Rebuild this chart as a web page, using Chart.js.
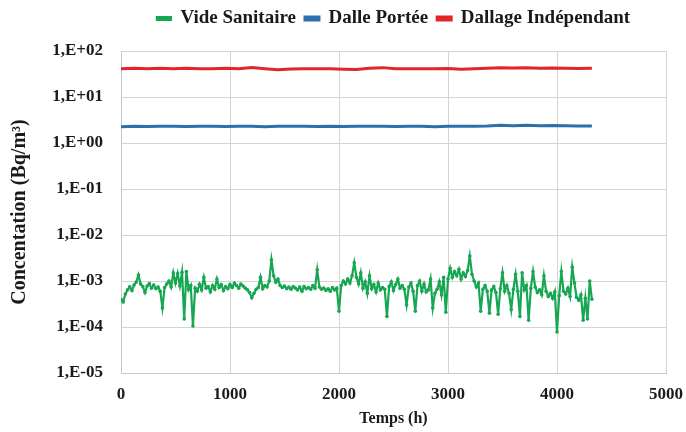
<!DOCTYPE html>
<html lang="fr">
<head>
<meta charset="UTF-8">
<title>Concentration - Temps</title>
<script src="https://cdn.jsdelivr.net/npm/chart.js"></script>
<style>
  body { margin: 0; background: #fff; }
  .wrap { width: 686px; height: 432px; position: relative; }
</style>
</head>
<body>
<div class="wrap"><canvas id="concChart"></canvas></div>
<script>
// series names / colours
const seriesNames = ['Vide Sanitaire', 'Dalle Portée', 'Dallage Indépendant'];
const seriesColors = ['#17a752', '#2b70ad', '#e0252b'];

// axes
const xTicks = [0, 1000, 2000, 3000, 4000, 5000];
const yTicks = [1e-5, 1e-4, 1e-3, 1e-2, 1e-1, 1, 10, 100];
const yTickLabels = ['1,E-05', '1,E-04', '1,E-03', '1,E-02', '1,E-01', '1,E+00', '1,E+01', '1,E+02'];

// Vide Sanitaire, one reading every 20 h from 0 h
const videStepHours = 20;
const videSanitaire = [
  4.0e-4, 3.5e-4, 5.2e-4, 6.4e-4, 7.5e-4, 6.2e-4, 8.2e-4, 9.5e-4, 1.35e-3, 8.6e-4,
  7.6e-4, 5.6e-4, 7.8e-4, 8.8e-4, 7.0e-4, 8.2e-4, 6.8e-4, 7.4e-4, 6.0e-4, 2.6e-4,
  7.2e-4, 8.6e-4, 1.0e-3, 7.4e-4, 1.5e-3, 9.0e-4, 1.45e-3, 7.8e-4, 1.55e-3, 1.5e-4,
  1.6e-3, 6.5e-4, 8.0e-4, 1.05e-4, 7.0e-4, 6.0e-4, 8.5e-4, 6.4e-4, 1.2e-3, 7.0e-4,
  7.6e-4, 5.8e-4, 8.0e-4, 6.6e-4, 1.1e-3, 7.2e-4, 8.4e-4, 6.2e-4, 7.6e-4, 6.8e-4,
  8.4e-4, 7.2e-4, 9.0e-4, 8.0e-4, 7.0e-4, 8.6e-4, 7.8e-4, 7.0e-4, 6.4e-4, 5.6e-4,
  4.3e-4, 5.4e-4, 6.6e-4, 7.2e-4, 1.2e-3, 6.8e-4, 8.0e-4, 7.4e-4, 1.0e-3, 2.9e-3,
  1.3e-3, 9.4e-4, 1.1e-3, 8.0e-4, 7.2e-4, 7.8e-4, 6.8e-4, 7.4e-4, 6.6e-4, 7.6e-4,
  7.0e-4, 6.4e-4, 7.4e-4, 6.0e-4, 7.6e-4, 6.8e-4, 7.2e-4, 6.6e-4, 8.0e-4, 7.0e-4,
  1.75e-3, 7.4e-4, 6.6e-4, 7.0e-4, 6.2e-4, 6.8e-4, 6.0e-4, 7.2e-4, 6.4e-4, 7.0e-4,
  2.2e-4, 8.0e-4, 1.0e-3, 8.6e-4, 1.1e-3, 9.0e-4, 1.3e-3, 2.5e-3, 1.2e-3, 8.6e-4,
  1.5e-3, 7.0e-4, 9.6e-4, 5.4e-4, 1.3e-3, 6.8e-4, 8.4e-4, 5.8e-4, 9.0e-4, 6.4e-4,
  7.2e-4, 6.6e-4, 1.7e-4, 7.6e-4, 9.6e-4, 6.2e-4, 8.4e-4, 1.1e-3, 7.0e-4, 8.0e-4,
  6.6e-4, 3.0e-4, 7.4e-4, 9.0e-4, 6.0e-4, 2.2e-4, 8.0e-4, 1.0e-3, 6.0e-4, 8.6e-4,
  5.8e-4, 6.4e-4, 1.1e-3, 2.6e-4, 5.4e-4, 6.6e-4, 9.6e-4, 5.0e-4, 1.2e-3, 2.1e-4,
  1.1e-3, 1.9e-3, 1.2e-3, 1.6e-3, 1.3e-3, 1.8e-3, 1.1e-3, 1.5e-3, 1.25e-3, 1.7e-3,
  3.5e-3, 1.4e-3, 1.0e-3, 7.4e-4, 9.0e-4, 2.2e-4, 6.6e-4, 8.0e-4, 6.0e-4, 2.0e-4,
  6.4e-4, 7.6e-4, 5.6e-4, 1.9e-4, 6.8e-4, 1.5e-3, 6.0e-4, 8.0e-4, 5.4e-4, 2.4e-4,
  6.6e-4, 1.4e-3, 6.0e-4, 1.7e-4, 1.5e-3, 6.4e-4, 8.0e-4, 1.4e-4, 7.0e-4, 1.6e-3,
  7.4e-4, 5.6e-4, 6.4e-4, 5.0e-4, 1.3e-3, 6.0e-4, 4.6e-4, 5.4e-4, 4.2e-4, 5.8e-4,
  7.8e-5, 4.8e-4, 1.6e-3, 6.0e-4, 5.2e-4, 7.0e-4, 4.6e-4, 2.0e-3, 9.0e-4, 4.4e-4,
  3.8e-4, 5.0e-4, 1.4e-4, 4.2e-4, 1.5e-4, 1.0e-3, 4.0e-4
];

// Dalle / Dallage, read every 120 h
const dalleHours = [0, 120, 240, 360, 480, 600, 720, 840, 960, 1080, 1200, 1320, 1440, 1560, 1680, 1800, 1920, 2040, 2160,
  2280, 2400, 2520, 2640, 2760, 2880, 3000, 3120, 3240, 3360, 3480, 3600, 3720, 3840, 3960, 4080, 4200, 4320];
const dallePortee = [2.25, 2.3, 2.28, 2.3, 2.3, 2.27, 2.3, 2.3, 2.28, 2.3, 2.3, 2.26, 2.3, 2.3, 2.3, 2.28, 2.3, 2.27, 2.3,
  2.3, 2.3, 2.28, 2.3, 2.3, 2.26, 2.3, 2.3, 2.32, 2.35, 2.42, 2.38, 2.42, 2.36, 2.4, 2.36, 2.34, 2.35];
const dallageIndependant = [41, 42, 41, 42, 41, 42, 41, 41, 42, 41, 43.5, 41, 39, 40.5, 41, 41, 41, 40, 39.5,
  42, 43.5, 41, 41, 41, 41, 41.5, 40, 41, 42, 43, 42.5, 43, 42, 42.5, 42, 41.5, 42];

const serif = '"Liberation Serif", "Times New Roman", serif';

const pts = (xs, ys) => ys.map((v, i) => ({ x: xs[i], y: v }));
const videHours = videSanitaire.map((_, i) => i * videStepHours);

// leave a gap under the legend, like the original
const legendGap = {
    id: 'legendGap',
    afterInit(chart) {
        const fit = chart.legend.fit.bind(chart.legend);
        chart.legend.fit = function () { fit(); this.height += 13; };
    }
};

new Chart(document.getElementById('concChart'), {
    type: 'line',
    data: {
        datasets: [
            {
                label: seriesNames[0],
                data: pts(videHours, videSanitaire),
                borderColor: seriesColors[0],
                backgroundColor: seriesColors[0],
                borderWidth: 2.2,
                pointRadius: 1.8,
                pointBorderWidth: 0,
                tension: 0
            },
            {
                label: seriesNames[1],
                data: pts(dalleHours, dallePortee),
                borderColor: seriesColors[1],
                backgroundColor: seriesColors[1],
                borderWidth: 3,
                pointRadius: 0,
                tension: 0
            },
            {
                label: seriesNames[2],
                data: pts(dalleHours, dallageIndependant),
                borderColor: seriesColors[2],
                backgroundColor: seriesColors[2],
                borderWidth: 3,
                pointRadius: 0,
                tension: 0
            }
        ]
    },
    plugins: [legendGap],
    options: {
        responsive: true,
        maintainAspectRatio: false,
        animation: false,
        layout: { padding: { left: 0, right: 20, top: 0, bottom: 0 } },
        plugins: {
            legend: {
                position: 'top',
                fullSize: false,
                labels: {
                    boxWidth: 14,
                    boxHeight: 3,
                    padding: 9,
                    color: '#1a1a1a',
                    font: { family: serif, size: 19, weight: 'bold' }
                }
            },
            tooltip: { enabled: false }
        },
        scales: {
            x: {
                type: 'linear',
                min: 0,
                max: 5000,
                afterBuildTicks: s => { s.ticks = xTicks.map(v => ({ value: v })); },
                afterFit: s => { s.height = 59; s.paddingRight = 0; },
                grid: { color: '#d4d4d4', drawTicks: false },
                border: { color: '#c8c8c8' },
                ticks: {
                    padding: 11,
                    color: '#1a1a1a',
                    font: { family: serif, size: 17, weight: 'bold' },
                    callback: v => String(v)
                },
                title: {
                    display: true,
                    text: 'Temps (h)',
                    color: '#1a1a1a',
                    padding: { top: 0 },
                    font: { family: serif, size: 16, weight: 'bold' }
                }
            },
            y: {
                type: 'logarithmic',
                min: 1e-5,
                max: 100,
                afterBuildTicks: s => { s.ticks = yTicks.map(v => ({ value: v })); },
                afterFit: s => { s.width = 121; },
                grid: { color: '#d4d4d4', drawTicks: false },
                border: { color: '#c8c8c8' },
                ticks: {
                    padding: 18,
                    color: '#1a1a1a',
                    font: { family: serif, size: 17, weight: 'bold' },
                    callback: (v) => {
                        const k = yTicks.indexOf(v);
                        return k >= 0 ? yTickLabels[k] : '';
                    }
                },
                title: {
                    display: true,
                    text: 'Concentation (Bq/m³)',
                    color: '#1a1a1a',
                    padding: { top: 8, bottom: 2 },
                    font: { family: serif, size: 20, weight: 'bold' }
                }
            }
        }
    }
});
</script>
</body>
</html>
